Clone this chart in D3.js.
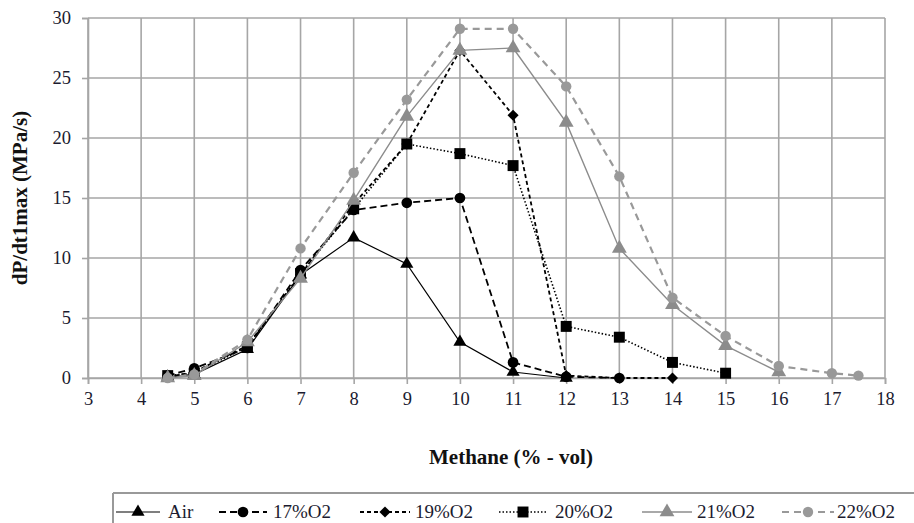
<!DOCTYPE html>
<html>
<head>
<meta charset="utf-8">
<script src="https://cdn.jsdelivr.net/npm/d3@7"></script>
<style>
  html, body { margin: 0; padding: 0; background: #fff; }
  svg text { font-family: "Liberation Serif", "DejaVu Serif", serif !important; }
</style>
</head>
<body>
<svg id="chart" width="914" height="523"></svg>
<script>
// Maximum rate of pressure rise versus methane concentration, by oxidiser
const seriesNames = ["Air", "17%O2", "19%O2", "20%O2", "21%O2", "22%O2"];

const airX = [4.5, 5, 6, 7, 8, 9, 10, 11, 12];
const airY = [0.1, 0.3, 2.4, 8.6, 11.7, 9.5, 3.0, 0.5, 0.0];

const o17X = [4.5, 5, 6, 7, 8, 9, 10, 11, 12, 13];
const o17Y = [0.2, 0.8, 2.5, 9.0, 14.0, 14.6, 15.0, 1.3, 0.1, 0.0];

const o19X = [4.5, 5, 6, 7, 8, 9, 10, 11, 12, 13, 14];
const o19Y = [0.1, 0.5, 2.7, 8.6, 14.5, 19.5, 27.3, 21.9, 0.2, 0.0, 0.0];

const o20X = [4.5, 5, 6, 7, 8, 9, 10, 11, 12, 13, 14, 15];
const o20Y = [0.2, 0.4, 2.6, 8.7, 14.1, 19.5, 18.7, 17.7, 4.3, 3.4, 1.3, 0.4];

const o21X = [4.5, 5, 6, 7, 8, 9, 10, 11, 12, 13, 14, 15, 16];
const o21Y = [0.0, 0.2, 3.0, 8.3, 14.8, 21.8, 27.3, 27.5, 21.3, 10.8, 6.1, 2.7, 0.5];

const o22X = [4.5, 5, 6, 7, 8, 9, 10, 11, 12, 13, 14, 15, 16, 17, 17.5];
const o22Y = [0.0, 0.3, 3.2, 10.8, 17.1, 23.2, 29.1, 29.1, 24.3, 16.8, 6.7, 3.5, 1.0, 0.4, 0.2];

const xTicks = [3, 4, 5, 6, 7, 8, 9, 10, 11, 12, 13, 14, 15, 16, 17, 18];
const yTicks = [0, 5, 10, 15, 20, 25, 30];

const seriesX = [airX, o17X, o19X, o20X, o21X, o22X];
const seriesY = [airY, o17Y, o19Y, o20Y, o21Y, o22Y];

// Per-series look: stroke, dash, width, marker symbol, marker size, marker rotation
const looks = [
  { color: "#000000", dash: null,    width: 1.2, symbol: d3.symbolTriangle, size: 75,  rot: 0 },
  { color: "#000000", dash: "7,4",   width: 1.8, symbol: d3.symbolCircle,   size: 90,  rot: 0 },
  { color: "#000000", dash: "4,3",   width: 1.8, symbol: d3.symbolSquare,   size: 62,  rot: 45 },
  { color: "#000000", dash: "1.5,2", width: 1.6, symbol: d3.symbolSquare,   size: 120, rot: 0 },
  { color: "#8c8c8c", dash: null,    width: 1.4, symbol: d3.symbolTriangle, size: 95,  rot: 0 },
  { color: "#999999", dash: "7,5",   width: 2.2, symbol: d3.symbolCircle,   size: 85,  rot: 0 }
];

const svg = d3.select("#chart");
const margin = { left: 88, right: 29, top: 18, bottom: 145 };
const W = 914, H = 523;

const x = d3.scaleLinear().domain([3, 18]).range([margin.left, W - margin.right]);
const y = d3.scaleLinear().domain([0, 30]).range([H - margin.bottom, margin.top]);

const gridColor = "#a6a6a6";
const textColor = "#1b1b2f";

// Grid
const grid = svg.append("g");
grid.selectAll("line.v").data(xTicks).join("line")
  .attr("x1", d => x(d)).attr("x2", d => x(d))
  .attr("y1", y(30)).attr("y2", y(0))
  .attr("stroke", gridColor).attr("stroke-width", 1.6);
grid.selectAll("line.h").data(yTicks).join("line")
  .attr("x1", x(3)).attr("x2", x(18))
  .attr("y1", d => y(d)).attr("y2", d => y(d))
  .attr("stroke", gridColor).attr("stroke-width", 1.6);

// Axes
const xAxis = svg.append("g")
  .attr("transform", `translate(0,${y(0)})`)
  .call(d3.axisBottom(x).tickValues(xTicks).tickSize(6).tickPadding(8).tickFormat(d3.format("d")));
const yAxis = svg.append("g")
  .attr("transform", `translate(${x(3)},0)`)
  .call(d3.axisLeft(y).tickValues(yTicks).tickSize(6).tickPadding(11).tickFormat(d3.format("d")));

[xAxis, yAxis].forEach(g => {
  g.attr("font-family", null);
  g.select(".domain").attr("stroke", gridColor).attr("stroke-width", 1.6);
  g.selectAll(".tick line").attr("stroke", gridColor).attr("stroke-width", 1.6);
  g.selectAll(".tick text")
    .attr("font-size", 18.5)
    .attr("fill", textColor);
});

// Axis titles
svg.append("text")
  .attr("x", 511).attr("y", 464)
  .attr("text-anchor", "middle")
  .attr("font-weight", "bold").attr("font-size", 21)
  .attr("fill", "#111")
  .text("Methane (% - vol)");

svg.append("text")
  .attr("transform", `translate(27,${(y(0) + y(30)) / 2}) rotate(-90)`)
  .attr("text-anchor", "middle")
  .attr("font-weight", "bold").attr("font-size", 21)
  .attr("fill", "#111")
  .text("dP/dt1max (MPa/s)");

// Series lines and markers
const line = d3.line().x(d => x(d[0])).y(d => y(d[1]));
const plot = svg.append("g");

seriesNames.forEach((name, i) => {
  const pts = seriesX[i].map((v, k) => [v, seriesY[i][k]]);
  const lk = looks[i];
  plot.append("path")
    .datum(pts)
    .attr("fill", "none")
    .attr("stroke", lk.color)
    .attr("stroke-width", lk.width)
    .attr("stroke-dasharray", lk.dash)
    .attr("d", line);
  plot.append("g").selectAll("path").data(pts).join("path")
    .attr("transform", d => `translate(${x(d[0])},${y(d[1])}) rotate(${lk.rot})`)
    .attr("d", d3.symbol().type(lk.symbol).size(lk.size))
    .attr("fill", lk.color);
});

// Legend
const legendY = 512;
const legendBox = svg.append("g");
legendBox.append("line")
  .attr("x1", 113).attr("x2", W).attr("y1", 493).attr("y2", 493)
  .attr("stroke", "#999").attr("stroke-width", 2);
legendBox.append("line")
  .attr("x1", 113).attr("x2", 113).attr("y1", 493).attr("y2", H)
  .attr("stroke", "#999").attr("stroke-width", 2);

const legendMarkX = [138, 243, 385, 523, 667, 808];
const legendHalf = [22, 24, 25, 24, 25, 26];
const legendTextX = [168, 273, 415, 555, 697, 837];

seriesNames.forEach((name, i) => {
  const lk = looks[i];
  const g = legendBox.append("g");
  g.append("line")
    .attr("x1", legendMarkX[i] - legendHalf[i]).attr("x2", legendMarkX[i] + legendHalf[i])
    .attr("y1", legendY).attr("y2", legendY)
    .attr("stroke", lk.color)
    .attr("stroke-width", lk.width)
    .attr("stroke-dasharray", lk.dash);
  g.append("path")
    .attr("transform", `translate(${legendMarkX[i]},${legendY}) rotate(${lk.rot})`)
    .attr("d", d3.symbol().type(lk.symbol).size(lk.size))
    .attr("fill", lk.color);
  g.append("text")
    .attr("x", legendTextX[i]).attr("y", legendY + 6)
    .attr("font-size", 19)
    .attr("fill", textColor)
    .text(name);
});
</script>
</body>
</html>
